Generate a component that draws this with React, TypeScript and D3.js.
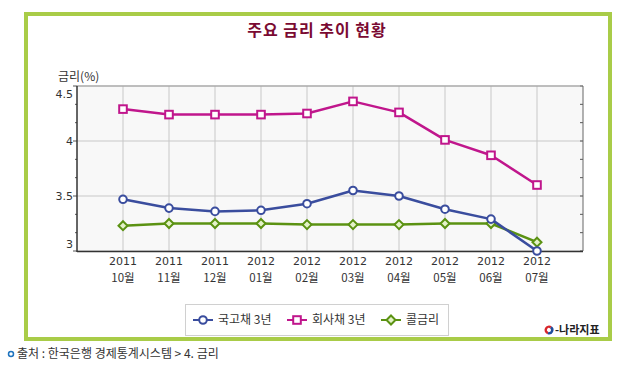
import React, { useEffect, useRef } from "react";
import * as d3 from "d3";

const months = ["10월", "11월", "12월", "01월", "02월", "03월", "04월", "05월", "06월", "07월"];
const years = ["2011", "2011", "2011", "2012", "2012", "2012", "2012", "2012", "2012", "2012"];

const treasury3y = [3.47, 3.39, 3.36, 3.37, 3.43, 3.55, 3.5, 3.38, 3.29, 3.0];
const corporate3y = [4.29, 4.24, 4.24, 4.24, 4.25, 4.36, 4.26, 4.01, 3.87, 3.6];
const callRate = [3.23, 3.25, 3.25, 3.25, 3.24, 3.24, 3.24, 3.25, 3.25, 3.08];

const yTicks = [3, 3.5, 4, 4.5];
const seriesNames = ["국고채 3년", "회사채 3년", "콜금리"];

const KR = "'Noto Sans CJK KR', 'Noto Sans', sans-serif";
const NUM = "'DejaVu Sans', Verdana, sans-serif";

const App: React.FC = () => {
  const svgRef = useRef<SVGSVGElement>(null);
  const width = 620;
  const height = 366;
  const plot = { left: 77, right: 583, top: 86, bottom: 251 };

  useEffect(() => {
    document.body.style.margin = "0";
    if (!svgRef.current) return;
    const svg = d3.select(svgRef.current);
    svg.selectAll("*").remove();

    const keys = months.map((m, i) => `${years[i]}-${m}`);
    const xScale = d3
      .scalePoint<string>()
      .domain(keys)
      .range([plot.left, plot.right])
      .padding(1);
    const yScale = d3.scaleLinear().domain([3, 4.5]).range([plot.bottom, plot.top]);

    // Outer frame
    svg
      .append("rect")
      .attr("x", 26)
      .attr("y", 14)
      .attr("width", 584)
      .attr("height", 325)
      .attr("fill", "#ffffff")
      .attr("stroke", "#a9cc48")
      .attr("stroke-width", 4);

    // Title
    svg
      .append("text")
      .attr("x", 317)
      .attr("y", 36)
      .attr("text-anchor", "middle")
      .attr("fill", "#7a0a32")
      .attr("font-family", KR)
      .attr("font-size", "16px")
      .attr("font-weight", "bold")
      .attr("letter-spacing", "1px")
      .text("주요 금리 추이 현황");

    // Plot background
    svg
      .append("rect")
      .attr("x", plot.left)
      .attr("y", plot.top)
      .attr("width", plot.right - plot.left)
      .attr("height", plot.bottom - plot.top)
      .attr("fill", "#f8f8f8");

    // Grid
    const g = svg.append("g");
    keys.forEach((k) => {
      g.append("line")
        .attr("x1", xScale(k)!)
        .attr("x2", xScale(k)!)
        .attr("y1", plot.top)
        .attr("y2", plot.bottom)
        .attr("stroke", "#c8c8c8")
        .attr("stroke-width", 1);
    });
    yTicks.forEach((t) => {
      g.append("line")
        .attr("x1", plot.left)
        .attr("x2", plot.right)
        .attr("y1", yScale(t))
        .attr("y2", yScale(t))
        .attr("stroke", "#c8c8c8")
        .attr("stroke-width", 1);
    });

    // Minor ticks every 1/6
    const minor = d3.range(0, 10).map((i) => 3 + i / 6);
    minor.forEach((t) => {
      const major = yTicks.includes(Math.round(t * 100) / 100);
      g.append("line")
        .attr("x1", plot.left - (major ? 4 : 2))
        .attr("x2", plot.left)
        .attr("y1", yScale(t))
        .attr("y2", yScale(t))
        .attr("stroke", "#555");
      g.append("line")
        .attr("x1", plot.right - 3)
        .attr("x2", plot.right)
        .attr("y1", yScale(t))
        .attr("y2", yScale(t))
        .attr("stroke", "#555");
    });

    // Plot border
    g.append("line")
      .attr("x1", plot.left)
      .attr("x2", plot.right)
      .attr("y1", plot.top)
      .attr("y2", plot.top)
      .attr("stroke", "#999");
    g.append("line")
      .attr("x1", plot.right)
      .attr("x2", plot.right)
      .attr("y1", plot.top)
      .attr("y2", plot.bottom)
      .attr("stroke", "#666");
    g.append("line")
      .attr("x1", plot.left)
      .attr("x2", plot.left)
      .attr("y1", plot.top)
      .attr("y2", plot.bottom + 1)
      .attr("stroke", "#333")
      .attr("stroke-width", 1.5);
    g.append("line")
      .attr("x1", plot.left)
      .attr("x2", plot.right)
      .attr("y1", plot.bottom + 0.5)
      .attr("y2", plot.bottom + 0.5)
      .attr("stroke", "#333")
      .attr("stroke-width", 1.5);

    // Y labels
    const yLabelPos: Record<number, number> = { 3: -7, 3.5: 0, 4: 0, 4.5: 8 };
    yTicks.forEach((t) => {
      g.append("text")
        .attr("x", 73)
        .attr("y", yScale(t) + yLabelPos[t])
        .attr("dy", "0.35em")
        .attr("text-anchor", "end")
        .attr("fill", "#333")
        .attr("font-family", NUM)
        .attr("font-size", "11px")
        .text(String(t));
    });
    g.append("text")
      .attr("x", 58)
      .attr("y", 81)
      .attr("fill", "#333")
      .attr("font-family", KR)
      .attr("font-size", "12px")
      .text("금리(%)");

    // X labels (two lines: year / month)
    keys.forEach((k, i) => {
      const x = xScale(k)!;
      g.append("text")
        .attr("x", x)
        .attr("y", 265)
        .attr("text-anchor", "middle")
        .attr("fill", "#333")
        .attr("font-family", NUM)
        .attr("font-size", "11px")
        .text(years[i]);
      g.append("text")
        .attr("x", x)
        .attr("y", 282)
        .attr("text-anchor", "middle")
        .attr("fill", "#333")
        .attr("font-family", KR)
        .attr("font-size", "11.5px")
        .text(months[i]);
    });

    const series = [
      { name: seriesNames[0], values: treasury3y, color: "#3a4d9e", shape: "circle" },
      { name: seriesNames[1], values: corporate3y, color: "#c0168c", shape: "square" },
      { name: seriesNames[2], values: callRate, color: "#5b9212", shape: "diamond" },
    ];

    const drawMarker = (
      sel: d3.Selection<SVGGElement, unknown, null, undefined>,
      shape: string,
      color: string,
      x: number,
      y: number
    ) => {
      if (shape === "circle") {
        sel.append("circle")
          .attr("cx", x)
          .attr("cy", y)
          .attr("r", 3.8)
          .attr("fill", "#fff")
          .attr("stroke", color)
          .attr("stroke-width", 2);
      } else if (shape === "square") {
        sel.append("rect")
          .attr("x", x - 3.8)
          .attr("y", y - 3.8)
          .attr("width", 7.6)
          .attr("height", 7.6)
          .attr("fill", "#fff")
          .attr("stroke", color)
          .attr("stroke-width", 2);
      } else {
        sel.append("path")
          .attr("d", `M${x},${y - 4.5}L${x + 4.5},${y}L${x},${y + 4.5}L${x - 4.5},${y}Z`)
          .attr("fill", "#e4f2c8")
          .attr("stroke", color)
          .attr("stroke-width", 2);
      }
    };

    const line = d3
      .line<number>()
      .x((_, i) => xScale(keys[i])!)
      .y((d) => yScale(d));

    // Draw order: call rate, treasury, corporate
    [series[2], series[0], series[1]].forEach((s) => {
      const sg = svg.append("g");
      sg.append("path")
        .attr("d", line(s.values)!)
        .attr("fill", "none")
        .attr("stroke", s.color)
        .attr("stroke-width", 2.5)
        .attr("stroke-linejoin", "round");
      s.values.forEach((v, i) => drawMarker(sg, s.shape, s.color, xScale(keys[i])!, yScale(v)));
    });

    // Legend
    const legend = svg.append("g");
    legend
      .append("rect")
      .attr("x", 185.5)
      .attr("y", 304.5)
      .attr("width", 263)
      .attr("height", 31)
      .attr("fill", "#fff")
      .attr("stroke", "#d0d0d0");
    const legendX = [203, 297, 391];
    series.forEach((s, i) => {
      const cx = legendX[i];
      const lg = legend.append("g");
      lg.append("line")
        .attr("x1", cx - 10)
        .attr("x2", cx + 10)
        .attr("y1", 320)
        .attr("y2", 320)
        .attr("stroke", s.color)
        .attr("stroke-width", 2);
      drawMarker(lg, s.shape, s.color, cx, 320);
      lg.append("text")
        .attr("x", cx + 15)
        .attr("y", 324)
        .attr("fill", "#333")
        .attr("font-family", KR)
        .attr("font-size", "12px")
        .text(s.name);
    });

    // Logo
    const logo = svg.append("g");
    logo.append("path")
      .attr("d", d3.arc()({ innerRadius: 2, outerRadius: 4.5, startAngle: -Math.PI * 0.9, endAngle: Math.PI * 0.2 })!)
      .attr("transform", "translate(549,330)")
      .attr("fill", "#d8262c");
    logo.append("path")
      .attr("d", d3.arc()({ innerRadius: 2, outerRadius: 4.5, startAngle: Math.PI * 0.2, endAngle: Math.PI * 1.1 })!)
      .attr("transform", "translate(549,330)")
      .attr("fill", "#1f4e9c");
    logo.append("text")
      .attr("x", 555)
      .attr("y", 334)
      .attr("fill", "#222")
      .attr("font-family", KR)
      .attr("font-size", "11px")
      .attr("font-weight", "bold")
      .text("-나라지표");

    // Source
    svg.append("circle")
      .attr("cx", 11)
      .attr("cy", 354)
      .attr("r", 2.5)
      .attr("fill", "none")
      .attr("stroke", "#1e73be")
      .attr("stroke-width", 1.5);
    svg.append("text")
      .attr("x", 17)
      .attr("y", 358)
      .attr("fill", "#333")
      .attr("font-family", KR)
      .attr("font-size", "12px")
      .text("출처 : 한국은행 경제통계시스템 > 4. 금리");
  }, []);

  return (
    <svg
      ref={svgRef}
      width={width}
      height={height}
      style={{ display: "block", background: "#fff" }}
    />
  );
};

export default App;
